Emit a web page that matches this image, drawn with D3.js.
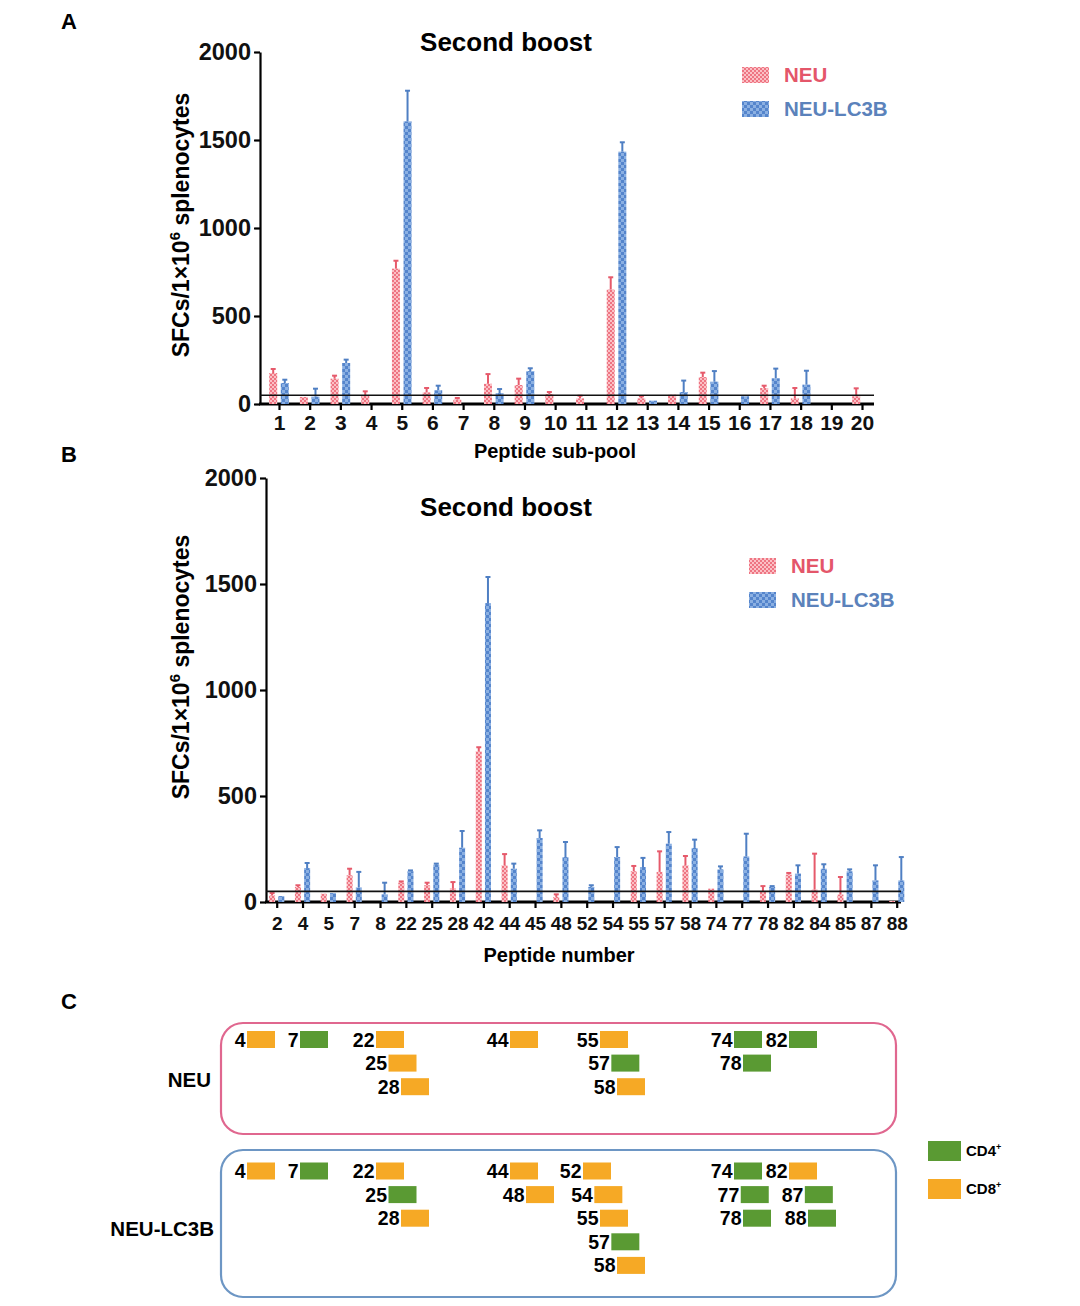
<!DOCTYPE html>
<html><head><meta charset="utf-8">
<script src="https://cdn.jsdelivr.net/npm/d3@7/dist/d3.min.js"></script>
<style>
body{margin:0;background:#fff;}
text{font-family:"Liberation Sans",Arial,sans-serif;}
</style></head>
<body><svg id="c" width="1080" height="1306"></svg>
<script>
// ---------- DATA ----------
const seriesNames = ["NEU", "NEU-LC3B"];
// Panel A: peptide sub-pools
const subPools = ["1","2","3","4","5","6","7","8","9","10","11","12","13","14","15","16","17","18","19","20"];
const aNeu      = [176, 40, 144, 50, 769, 66, 25, 115, 108, 57, 32, 650, 32, 53, 153, 0, 91, 32, 0, 44];
const aNeuErr   = [23, 0, 17, 22, 45, 25, 9, 55, 36, 11, 15, 70, 12, 0, 25, 0, 13, 59, 0, 45];
const aLc3b     = [119, 42, 233, 0, 1606, 78, 0, 62, 187, 0, 0, 1434, 19, 68, 127, 44, 146, 110, 0, 0];
const aLc3bErr  = [19, 45, 19, 0, 174, 26, 0, 23, 16, 0, 0, 53, 0, 65, 60, 0, 55, 79, 0, 0];
// Panel B: individual peptides
const peptides = ["2","4","5","7","8","22","25","28","42","44","45","48","52","54","55","57","58","74","77","78","82","84","85","87","88"];
const bNeu     = [31, 71, 39, 126, 0, 91, 79, 66, 711, 173, 0, 24, 0, 0, 145, 142, 173, 63, 0, 52, 129, 58, 35, 0, 5];
const bNeuErr  = [11, 8, 0, 31, 0, 6, 12, 28, 19, 53, 0, 12, 0, 0, 25, 97, 44, 0, 0, 23, 8, 170, 83, 0, 0];
const bLc3b    = [28, 160, 42, 68, 36, 145, 176, 256, 1410, 157, 302, 212, 71, 212, 165, 275, 255, 154, 215, 71, 134, 157, 145, 102, 102];
const bLc3bErr = [0, 24, 0, 74, 55, 4, 5, 79, 123, 24, 36, 71, 8, 47, 43, 55, 39, 14, 107, 4, 39, 21, 9, 71, 110];
const yTicks = [0, 500, 1000, 1500, 2000];
const threshold = 50;
// Panel C: epitope clusters per vaccine
const neuGroups  = [[4],[7],[22,25,28],[44],[55,57,58],[74,78],[82]];
const neuCD4     = [7,57,74,78,82];
const lc3bGroups = [[4],[7],[22,25,28],[44,48],[52,54,55,57,58],[74,77,78],[82,87,88]];
const lc3bCD4    = [7,25,57,74,77,78,87,88];
const cellTypes  = ["CD4", "CD8"];

// ---------- STYLE ----------
const REDTXT="#e4566a", BLUETXT="#5b82bb";
const GREEN="#5a9a33", ORANGE="#f6a925";
const svg = d3.select("#c");
const FONT = '"Liberation Sans",Arial,sans-serif';

const defs = svg.append("defs");
const pr = defs.append("pattern").attr("id","pRed").attr("patternUnits","userSpaceOnUse").attr("width",4).attr("height",4);
pr.append("rect").attr("width",4).attr("height",4).attr("fill","#fbc0c5");
pr.append("rect").attr("width",2).attr("height",2).attr("fill","#ee7482");
pr.append("rect").attr("x",2).attr("y",2).attr("width",2).attr("height",2).attr("fill","#ee7482");
const pb = defs.append("pattern").attr("id","pBlue").attr("patternUnits","userSpaceOnUse").attr("width",6).attr("height",6);
pb.append("rect").attr("width",6).attr("height",6).attr("fill","#5585cc");
pb.append("rect").attr("width",3).attr("height",3).attr("fill","#8bb0e2");
pb.append("rect").attr("x",3).attr("y",3).attr("width",3).attr("height",3).attr("fill","#8bb0e2");

function panelLabel(t,x,y){
  svg.append("text").attr("x",x).attr("y",y).text(t).attr("font-size",22).attr("font-weight","bold");
}

function barPanel(o){
  const g = svg.append("g");
  const x = d3.scalePoint().domain(o.cats).range(o.xr);
  const y = d3.scaleLinear().domain([0,2000]).range(o.yr);
  // y axis
  const ya = g.append("g").attr("transform",`translate(${o.axL},0)`)
    .call(d3.axisLeft(y).tickValues(yTicks).tickFormat(d3.format("d")).tickSize(6).tickPadding(3).tickSizeOuter(0));
  ya.select(".domain").attr("stroke-width",2.2);
  ya.selectAll(".tick line").attr("stroke-width",2.2);
  ya.selectAll("text").attr("font-size",23.5).attr("font-weight","bold").attr("font-family",FONT).attr("fill","#111");
  // x axis
  const xa = g.append("g").attr("transform",`translate(0,${o.yr[0]})`)
    .call(d3.axisBottom(x).tickSize(6).tickPadding(o.xpad).tickSizeOuter(0));
  xa.select(".domain").remove();
  xa.selectAll(".tick line").attr("stroke-width",2.2);
  xa.selectAll("text").attr("font-size",o.xfs).attr("font-weight","bold").attr("font-family",FONT).attr("fill","#111");
  g.append("line").attr("x1",o.axL-1).attr("x2",o.axR).attr("y1",y(0)).attr("y2",y(0)).attr("stroke","#000").attr("stroke-width",3);
  // bars
  const series = [
    {v:o.neu, e:o.neuErr, off:-o.off, fill:"url(#pRed)", ec:"#e65a6b"},
    {v:o.lc3b, e:o.lc3bErr, off:o.off, fill:"url(#pBlue)", ec:"#4f7fc3"}
  ];
  series.forEach(s=>{
    const data = o.cats.map((c,i)=>({c, v:s.v[i], e:s.e[i]}));
    g.append("g").selectAll("rect").data(data.filter(d=>d.v>0)).join("rect")
      .attr("x",d=>x(d.c)+s.off-o.bw/2).attr("width",o.bw)
      .attr("y",d=>y(d.v)).attr("height",d=>y(0)-y(d.v))
      .attr("fill",s.fill);
    const eg = g.append("g").attr("stroke",s.ec).attr("stroke-width",2);
    const ed = data.filter(d=>d.e>0);
    eg.selectAll(".ev").data(ed).join("line").attr("class","ev")
      .attr("x1",d=>x(d.c)+s.off).attr("x2",d=>x(d.c)+s.off)
      .attr("y1",d=>y(d.v)).attr("y2",d=>y(d.v+d.e));
    eg.selectAll(".ec").data(ed).join("line").attr("class","ec")
      .attr("x1",d=>x(d.c)+s.off-2.5).attr("x2",d=>x(d.c)+s.off+2.5)
      .attr("y1",d=>y(d.v+d.e)).attr("y2",d=>y(d.v+d.e));
  });
  // threshold
  g.append("line").attr("x1",o.axL).attr("x2",o.axR).attr("y1",y(threshold)).attr("y2",y(threshold))
    .attr("stroke","#111").attr("stroke-width",1.6);
  // title
  g.append("text").attr("x",506).attr("y",o.titleY).attr("text-anchor","middle")
    .attr("font-size",26).attr("font-weight","bold").text("Second boost");
  // y label
  const yl = g.append("text").attr("transform",`translate(189,${o.ylabY}) rotate(-90)`)
    .attr("text-anchor","middle").attr("font-size",23).attr("font-weight","bold");
  yl.append("tspan").text("SFCs/1×10");
  yl.append("tspan").attr("dy",-9).attr("font-size",15).text("6");
  yl.append("tspan").attr("dy",9).text(" splenocytes");
  // x label
  g.append("text").attr("x",o.xlabX).attr("y",o.xlabY).attr("text-anchor","middle")
    .attr("font-size",20).attr("font-weight","bold").text(o.xlab);
  // legend
  const lg = g.append("g");
  [["url(#pRed)",REDTXT],["url(#pBlue)",BLUETXT]].forEach((d,i)=>{
    lg.append("rect").attr("x",o.legX).attr("y",o.legY+i*34-8).attr("width",27).attr("height",16).attr("fill",d[0]);
    lg.append("text").attr("x",o.legX+42).attr("y",o.legY+i*34).attr("dy","0.36em")
      .attr("font-size",20.5).attr("font-weight","bold").attr("fill",d[1]).text(seriesNames[i]);
  });
}

panelLabel("A",61,29);
barPanel({cats:subPools, neu:aNeu, neuErr:aNeuErr, lc3b:aLc3b, lc3bErr:aLc3bErr,
  xr:[279,862], yr:[404,52], axL:260, axR:874, off:5.8, bw:8, xfs:21, xpad:5,
  titleY:51, ylabY:225, xlab:"Peptide sub-pool", xlabX:555, xlabY:458, legX:742, legY:75});

panelLabel("B",61,462);
barPanel({cats:peptides, neu:bNeu, neuErr:bNeuErr, lc3b:bLc3b, lc3bErr:bLc3bErr,
  xr:[276.7,896.7], yr:[902,478], axL:266, axR:901, off:4.6, bw:6, xfs:19, xpad:9,
  titleY:516, ylabY:667, xlab:"Peptide number", xlabX:559, xlabY:962, legX:749, legY:566});

// ---------- PANEL C ----------
panelLabel("C",61,1009);
// peptide position along the map (piecewise linear)
const px = d3.scaleLinear().domain([4,7,22,28,44,48,52,58,74,78,82,88])
  .range([247,300,376,401,510,526,583,617,734,743,789,808]);
const color = d3.scaleOrdinal().domain(cellTypes).range([GREEN, ORANGE]);

function box(o){
  const g = svg.append("g");
  g.append("rect").attr("x",221).attr("y",o.y0).attr("width",675).attr("height",o.h)
    .attr("rx",22).attr("fill","none").attr("stroke",o.stroke).attr("stroke-width",2.2);
  g.append("text").attr("x",o.labX).attr("y",o.labY).attr("text-anchor","end").attr("dy","0.36em")
    .attr("font-size",20.5).attr("font-weight","bold").text(o.name);
  const items = [];
  o.groups.forEach(gr=>gr.forEach((p,r)=>items.push({p, r, t: o.cd4.includes(p)?"CD4":"CD8"})));
  const ry = d => o.row0 + d.r*23.6;
  g.selectAll("rect.ep").data(items).join("rect").attr("class","ep")
    .attr("x",d=>px(d.p)).attr("y",d=>ry(d)-8.5).attr("width",28).attr("height",17)
    .attr("fill",d=>color(d.t));
  g.selectAll("text.ep").data(items).join("text").attr("class","ep")
    .attr("x",d=>px(d.p)-1.5).attr("y",d=>ry(d)).attr("dy","0.36em").attr("text-anchor","end")
    .attr("font-size",19.5).attr("font-weight","bold").text(d=>d.p);
}
box({y0:1023, h:111, stroke:"#e0678f", name:"NEU", labX:211, labY:1080, groups:neuGroups, cd4:neuCD4, row0:1039.5});
box({y0:1150, h:147, stroke:"#6d96c4", name:"NEU-LC3B", labX:214, labY:1229, groups:lc3bGroups, cd4:lc3bCD4, row0:1171});

// legend C
cellTypes.forEach((t,i)=>{
  svg.append("rect").attr("x",928).attr("y",1141+i*38).attr("width",33).attr("height",20).attr("fill",color(t));
  const tx = svg.append("text").attr("x",966).attr("y",1151+i*38).attr("dy","0.36em")
    .attr("font-size",15).attr("font-weight","bold");
  tx.append("tspan").text(t);
  tx.append("tspan").attr("dy",-6).attr("font-size",9).text("+");
});
</script></body></html>
